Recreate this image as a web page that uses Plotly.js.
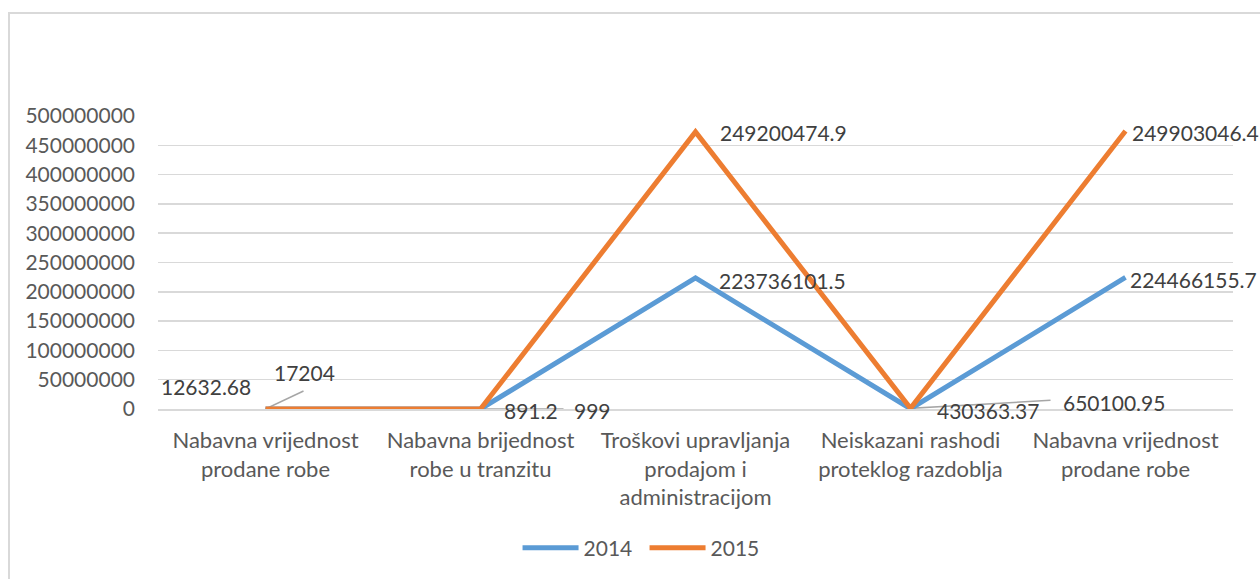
<!DOCTYPE html>
<html>
<head>
<meta charset="utf-8">
<script src="https://cdn.plot.ly/plotly-3.0.1.min.js"></script>
<style>
  html, body { margin: 0; padding: 0; background: #fff; }
  #wrap { position: relative; width: 1260px; height: 579px; overflow: hidden; }
  #chart { position: absolute; left: 0; top: 0; width: 1260px; height: 579px; }
  #frame { position: absolute; left: 8px; top: 12px; width: 1260px; height: 600px;
           border-left: 2px solid #D9D9D9; border-top: 2px solid #D9D9D9; pointer-events: none; }
</style>
</head>
<body>
<div id="wrap">
  <div id="chart"></div>
  <div id="frame"></div>
</div>
<script>
// ---- data ----
const categories = [
  "Nabavna vrijednost<br>prodane robe",
  "Nabavna brijednost<br>robe u tranzitu",
  "Troškovi upravljanja<br>prodajom i<br>administracijom",
  "Neiskazani rashodi<br>proteklog razdoblja",
  "Nabavna vrijednost<br>prodane robe"
];
const seriesNames = ["2014", "2015"];
const values2014 = [12632.68, 891.2, 223736101.5, 430363.37, 224466155.7];
const values2015 = [17204, 999, 249200474.9, 650100.95, 249903046.4];
const labels2014 = ["12632.68", "891.2", "223736101.5", "430363.37", "224466155.7"];
const labels2015 = ["17204", "999", "249200474.9", "650100.95", "249903046.4"];
const yTickVals = [0, 50000000, 100000000, 150000000, 200000000, 250000000, 300000000, 350000000, 400000000, 450000000, 500000000];

// ---- layout config (label placement, pixels) ----
const off2014 = [
  {xa: "right", dx: -13, dy: 22},
  {xa: "left", dx: 21, dy: -1},
  {xa: "left", dx: 21, dy: -3},
  {xa: "left", dx: 24, dy: -2},
  {xa: "left", dx: 2, dy: -2}
];
const off2015 = [
  {xa: "left", dx: 6, dy: 36, lead: [38, 18]},
  {xa: "left", dx: 91, dy: -1, lead: [83, 0]},
  {xa: "left", dx: 22, dy: -1},
  {xa: "left", dx: 150, dy: 6, lead: [140, 8]},
  {xa: "left", dx: 4, dy: -1}
];

const xIdx = categories.map((c, i) => i);
// stacked line: 2015 drawn on top of 2014
const stacked2015 = values2015.map((v, i) => v + values2014[i]);

const FONT = "Lato, 'Open Sans', sans-serif";
const BLUE = "#5B9BD5", ORANGE = "#ED7D31";

const traces = [
  {x: xIdx, y: values2014, name: seriesNames[0], type: "scatter", mode: "lines",
   line: {color: BLUE, width: 5}, hoverinfo: "skip", cliponaxis: false},
  {x: xIdx, y: stacked2015, name: seriesNames[1], type: "scatter", mode: "lines",
   line: {color: ORANGE, width: 5}, hoverinfo: "skip", cliponaxis: false}
];

const annotations = [];
const shapes = [];
function addLabels(ys, labels, offs) {
  ys.forEach((y, i) => {
    const o = offs[i];
    annotations.push({
      x: xIdx[i], y: y, xref: "x", yref: "y", text: labels[i], showarrow: false,
      xanchor: o.xa, yanchor: "middle", xshift: o.dx, yshift: o.dy,
      font: {family: FONT, size: 21, color: "#404040"}
    });
    if (o.lead) {
      shapes.push({
        type: "line", xref: "x", yref: "y",
        xsizemode: "pixel", ysizemode: "pixel",
        xanchor: xIdx[i], yanchor: y,
        x0: 0, y0: 0, x1: o.lead[0], y1: o.lead[1],
        line: {color: "#A6A6A6", width: 1.5}, layer: "below"
      });
    }
  });
}
addLabels(values2014, labels2014, off2014);
addLabels(stacked2015, labels2015, off2015);

const layout = {
  width: 1260, height: 579,
  margin: {l: 158, r: 27, t: 116, b: 169},
  paper_bgcolor: "#ffffff", plot_bgcolor: "#ffffff",
  font: {family: FONT, size: 21, color: "#595959"},
  showlegend: true,
  legend: {orientation: "h", x: 0.4526, xanchor: "center", y: -0.47, yanchor: "middle",
           font: {family: FONT, size: 21, color: "#595959"}, itemwidth: 56,
           entrywidth: 56, tracegroupgap: 0, traceorder: "normal"},
  xaxis: {
    range: [-0.5, 4.5], tickmode: "array", tickvals: xIdx, ticktext: categories,
    tickfont: {family: FONT, size: 22, color: "#595959"},
    showgrid: false, zeroline: false, showline: true, linecolor: "#D9D9D9", linewidth: 1.5,
    ticks: "", ticklabelstandoff: 11, fixedrange: true
  },
  yaxis: {
    range: [0, 500000000], tickmode: "array", tickvals: yTickVals, tickformat: "d",
    showgrid: true, gridcolor: "#D9D9D9", gridwidth: 1.5, zeroline: false, showline: false,
    ticks: "", ticklabelstandoff: 22, fixedrange: true
  },
  annotations: annotations,
  shapes: shapes
};

Plotly.newPlot("chart", traces, layout, {displayModeBar: false, staticPlot: true});
</script>
</body>
</html>
